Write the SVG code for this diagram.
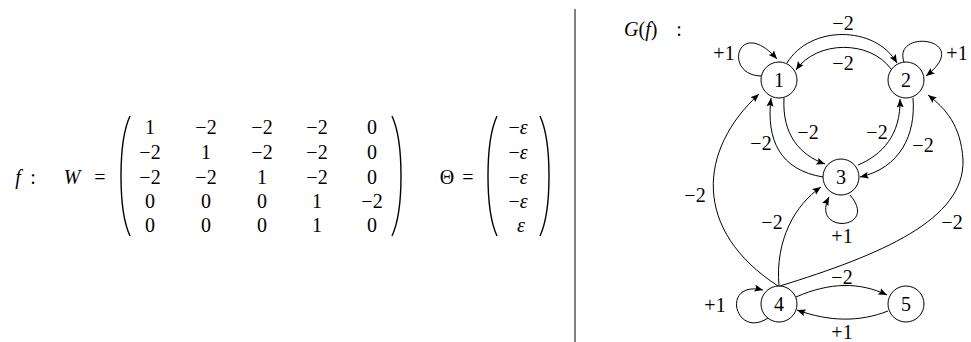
<svg xmlns="http://www.w3.org/2000/svg" width="971" height="342" viewBox="0 0 971 342">
<style>
text{font-family:"Liberation Serif","DejaVu Serif",serif;font-size:20px;fill:#000;text-anchor:middle}
.i{font-style:italic}
.s{text-anchor:start}
.node circle{fill:#fff;stroke:#000;stroke-width:1}
.edge{fill:none;stroke:#000;stroke-width:1;marker-end:url(#ah)}
.paren{fill:none;stroke:#000;stroke-width:1.4}
</style>
<defs>
<marker id="ah" markerUnits="userSpaceOnUse" markerWidth="10" markerHeight="8" refX="8.5" refY="3.5" orient="auto">
<path d="M0,0 L8.5,3.5 L0,7 L1.5,3.5 z" fill="#000"/>
</marker>
</defs>
<rect width="971" height="342" fill="#fff"/>

<g id="formula">
<text x="18" y="184" class="i">f</text>
<text x="33" y="184">:</text>
<text x="72" y="184" class="i">W</text>
<text x="100" y="184">=</text>
<path class="paren" d="M130,116 C118,142 118,210 130,236"/>
<path class="paren" d="M392,116 C404,142 404,210 392,236"/>
<g id="matrixW">
<text x="150" y="134">1</text><text x="206" y="134">−2</text><text x="262" y="134">−2</text><text x="317" y="134">−2</text><text x="372" y="134">0</text>
<text x="150" y="159">−2</text><text x="206" y="159">1</text><text x="262" y="159">−2</text><text x="317" y="159">−2</text><text x="372" y="159">0</text>
<text x="150" y="184">−2</text><text x="206" y="184">−2</text><text x="262" y="184">1</text><text x="317" y="184">−2</text><text x="372" y="184">0</text>
<text x="150" y="208">0</text><text x="206" y="208">0</text><text x="262" y="208">0</text><text x="317" y="208">1</text><text x="372" y="208">−2</text>
<text x="150" y="232">0</text><text x="206" y="232">0</text><text x="262" y="232">0</text><text x="317" y="232">1</text><text x="372" y="232">0</text>
</g>
<text x="447" y="184">Θ</text>
<text x="468" y="184">=</text>
<path class="paren" d="M497,116 C485,142 485,210 497,236"/>
<path class="paren" d="M540,116 C552,142 552,210 540,236"/>
<g id="vectorTheta">
<text x="518" y="134">−<tspan class="i">ε</tspan></text>
<text x="518" y="159">−<tspan class="i">ε</tspan></text>
<text x="518" y="184">−<tspan class="i">ε</tspan></text>
<text x="518" y="208">−<tspan class="i">ε</tspan></text>
<text x="521" y="232" class="i">ε</text>
</g>
</g>

<line x1="575" y1="9" x2="575" y2="342" stroke="#000" stroke-width="1"/>

<text x="624" y="36" class="s"><tspan class="i">G</tspan>(<tspan class="i">f</tspan>)</text>
<text x="679" y="36">:</text>

<g id="connectors">
<path class="edge" d="M787,63 C810,25 875,25 897,63"/>
<path class="edge" d="M891,69 C870,40 817,40 796,70"/>
<path class="edge" d="M761,76 C722,75 738,15 777,59"/>
<path class="edge" d="M904,62 C892,28 975,38 926,76"/>
<path class="edge" d="M823,177 C780,170 766,140 771,98"/>
<path class="edge" d="M784,98 C782,135 800,155 825,164"/>
<path class="edge" d="M858,165 C882,155 901,135 900,99"/>
<path class="edge" d="M913,98 C916,135 900,168 860,177"/>
<path class="edge" d="M850,195 C880,230 810,235 829,197"/>
<path class="edge" d="M778,286 C692,230 698,150 759,94"/>
<path class="edge" d="M779,286 C775,240 795,205 821,187"/>
<path class="edge" d="M780,286 C880,255 965,220 963,160 C961,125 945,108 928,95"/>
<path class="edge" d="M768,318 C735,340 720,280 763,290"/>
<path class="edge" d="M796,297 C830,282 860,282 887,295"/>
<path class="edge" d="M888,311 C860,322 830,322 797,310"/>
</g>

<g id="edge-labels">
<text x="843" y="30">−2</text>
<text x="843" y="70">−2</text>
<text x="724" y="60">+1</text>
<text x="957" y="60">+1</text>
<text x="808" y="139">−2</text>
<text x="761" y="150">−2</text>
<text x="877" y="139">−2</text>
<text x="923" y="152">−2</text>
<text x="842" y="243">+1</text>
<text x="695" y="202">−2</text>
<text x="772" y="229">−2</text>
<text x="952" y="229">−2</text>
<text x="715" y="312">+1</text>
<text x="842" y="284">−2</text>
<text x="842" y="339">+1</text>
</g>

<g id="node1" class="node"><circle cx="779" cy="80" r="18"/><text x="779" y="87">1</text></g>
<g id="node2" class="node"><circle cx="906" cy="80" r="18"/><text x="906" y="87">2</text></g>
<g id="node3" class="node"><circle cx="841" cy="177" r="18"/><text x="841" y="184">3</text></g>
<g id="node4" class="node"><circle cx="779" cy="304" r="18"/><text x="779" y="311">4</text></g>
<g id="node5" class="node"><circle cx="906" cy="304" r="18"/><text x="906" y="311">5</text></g>
</svg>
